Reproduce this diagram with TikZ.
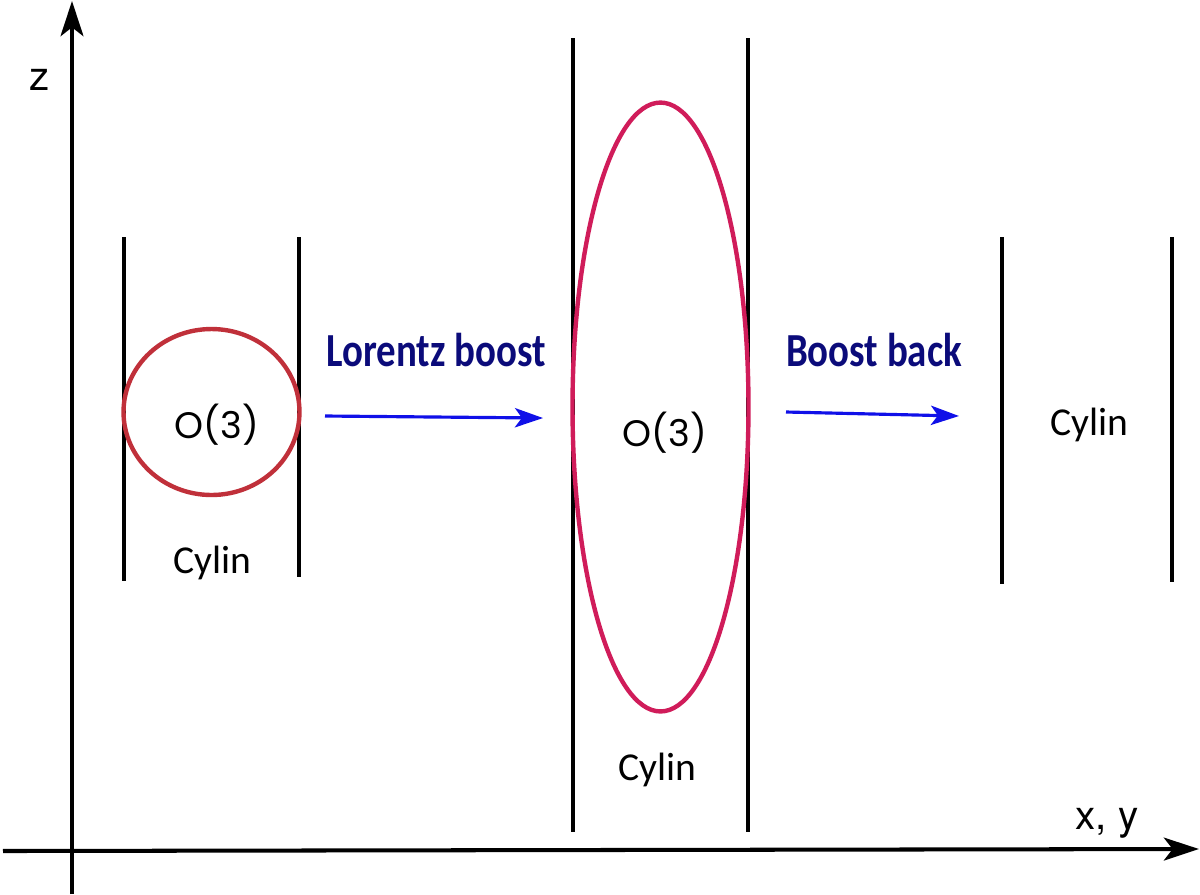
\documentclass[tikz,border=0pt]{standalone}
\usepackage{fontspec}
\usetikzlibrary{arrows.meta,shapes.geometric}
\newfontfamily\cylfont{Carlito}
\newfontfamily\boostfont[FakeStretch=0.82]{Carlito}
\newfontfamily\ofont{Poppins}
\newfontfamily\axfont{TeX Gyre Heros}
\definecolor{navy}{HTML}{0B0B7A}
\definecolor{arrblue}{HTML}{1010E8}
\definecolor{circred}{HTML}{C0303A}
\definecolor{ellred}{HTML}{D01C5A}
\tikzset{
  axis/.style={line width=2.3pt,-{Stealth[length=20pt,width=13pt,inset=5pt]}},
  wall/.style={line width=2pt},
  thickwall/.style={line width=2.8pt},
  boostarrow/.style={line width=1.8pt,arrblue,-{Stealth[length=16pt,width=11pt,inset=4pt]}},
  boostlabel/.style={font=\boostfont\bfseries\fontsize{27}{32}\selectfont,text=navy,inner sep=0pt},
  cyl/.style={font=\cylfont\fontsize{22.5}{27}\selectfont,inner sep=0pt},
  olab/.style={font=\ofont\fontsize{21}{24}\selectfont,inner sep=0pt},
  axlab/.style={font=\axfont\fontsize{23}{26}\selectfont,inner sep=0pt},
  shell/.style={ellipse,draw,line width=2.5pt,inner sep=0pt}
}
\begin{document}
\begin{tikzpicture}[x=0.02cm,y=-0.02cm]
\useasboundingbox (0,0) rectangle (1200,894);
% axes
\coordinate (zb) at (72,894);
\coordinate (zt) at (72,1);
\coordinate (xl) at (3,851);
\coordinate (xr) at (1199,849);
\draw[axis] (zb) -- (zt);
\draw[axis] (xl) -- (xr);
\node[axlab] (zlab) at (40,80) {z};
\node[axlab] (xylab) at (1107,823) {x, y};
% left cylinder
\coordinate (a1) at (124,237); \coordinate (a2) at (124,581);
\coordinate (b1) at (299,237); \coordinate (b2) at (299,577);
\draw[wall] (a1) -- (a2);
\draw[wall] (b1) -- (b2);
\node[shell,draw=circred,minimum width=3.52cm,minimum height=3.32cm] (c1) at (211.5,412) {};
\node[olab] (o1) at (217,425) {O(3)};
\node[cyl] (cy1) at (212,563) {Cylin};
% lorentz boost
\node[boostlabel] (lb) at (436,350) {Lorentz boost};
\coordinate (l1) at (325,416); \coordinate (l2) at (543,418);
\draw[boostarrow] (l1) -- (l2);
% middle cylinder
\coordinate (m1) at (573,38); \coordinate (m2) at (573,832);
\coordinate (n1) at (748,38); \coordinate (n2) at (748,832);
\draw[wall] (m1) -- (m2);
\draw[wall] (n1) -- (n2);
\node[shell,draw=ellred,minimum width=3.52cm,minimum height=12.18cm] (c2) at (660.5,407) {};
\node[olab] (o2) at (665,433) {O(3)};
\node[cyl] (cy2) at (657,770) {Cylin};
% boost back
\node[boostlabel] (bb) at (874,350) {Boost back};
\coordinate (k1) at (786,412); \coordinate (k2) at (959,416);
\draw[boostarrow] (k1) -- (k2);
% right cylinder
\coordinate (r1) at (1002,237); \coordinate (r2) at (1002,584);
\coordinate (s1) at (1172,237); \coordinate (s2) at (1172,582);
\draw[thickwall] (r1) -- (r2);
\draw[thickwall] (s1) -- (s2);
\node[cyl] (cy3) at (1089,425) {Cylin};
\end{tikzpicture}
\end{document}
